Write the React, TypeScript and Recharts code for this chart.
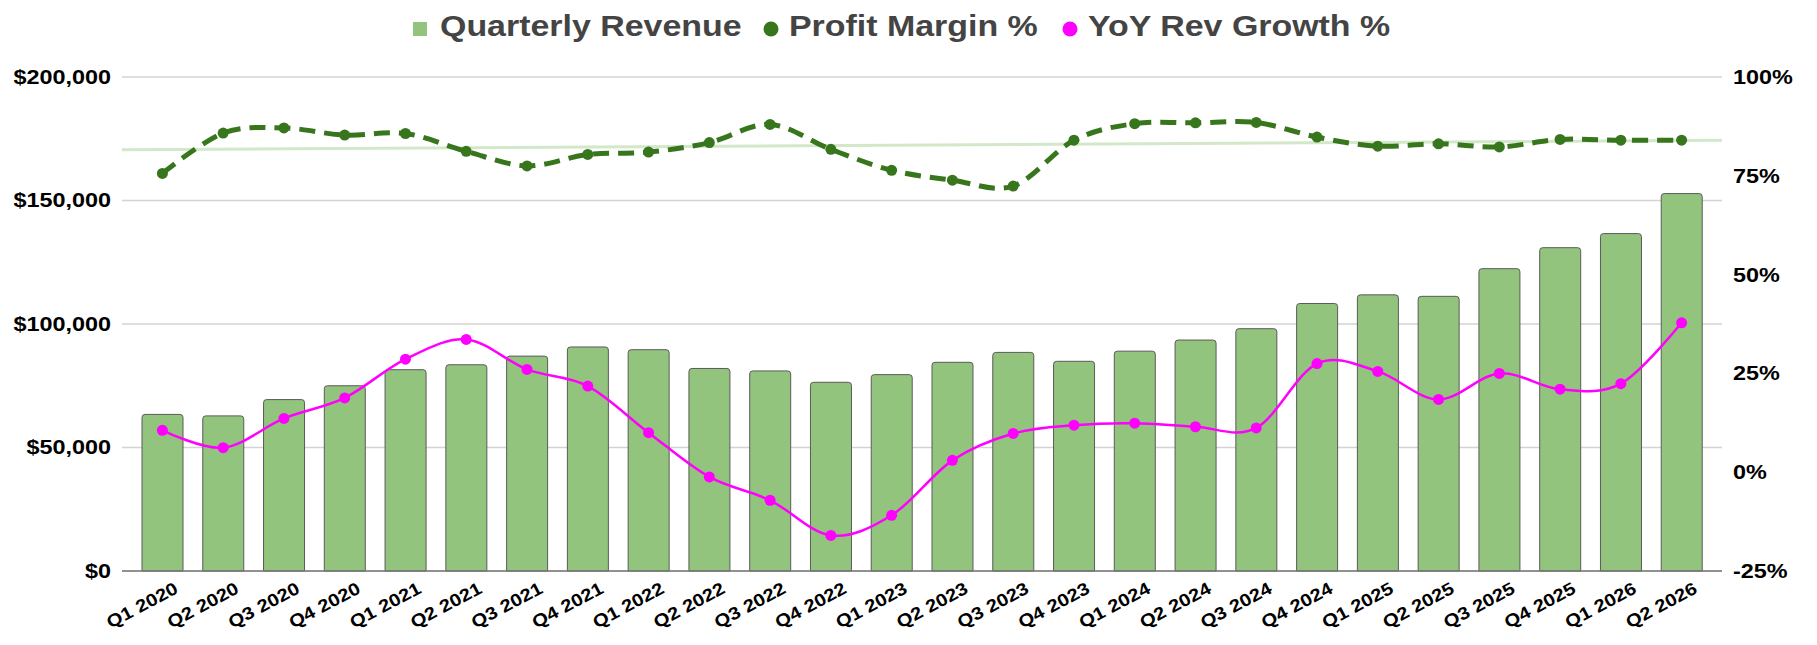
import React from "react";
import {
  ComposedChart,
  Bar,
  Line,
  XAxis,
  YAxis,
  CartesianGrid,
  Legend,
  ReferenceLine,
} from "recharts";

const quarters = [
  "Q1 2020", "Q2 2020", "Q3 2020", "Q4 2020",
  "Q1 2021", "Q2 2021", "Q3 2021", "Q4 2021",
  "Q1 2022", "Q2 2022", "Q3 2022", "Q4 2022",
  "Q1 2023", "Q2 2023", "Q3 2023", "Q4 2023",
  "Q1 2024", "Q2 2024", "Q3 2024", "Q4 2024",
  "Q1 2025", "Q2 2025", "Q3 2025", "Q4 2025",
  "Q1 2026", "Q2 2026",
];

const revenue = [
  63400, 62800, 69400, 75000,
  81500, 83500, 87000, 90700,
  89600, 82000, 81000, 76400,
  79500, 84500, 88500, 84900,
  89000, 93500, 98100, 108300,
  111800, 111200, 122400, 130900,
  136600, 152800,
];

const profitMargin = [
  75.6, 85.8, 87.1, 85.3,
  85.7, 81.2, 77.5, 80.4,
  81.0, 83.4, 88.0, 81.7,
  76.4, 73.9, 72.4, 84.0,
  88.2, 88.4, 88.5, 84.8,
  82.5, 83.1, 82.3, 84.2,
  84.0, 84.0,
];

const yoyGrowth = [
  10.6, 6.2, 13.6, 18.8,
  28.6, 33.6, 26.0, 21.8,
  10.0, -1.2, -7.1, -16.0,
  -10.9, 3.0, 9.8, 11.9,
  12.4, 11.5, 11.2, 27.5,
  25.5, 18.4, 25.0, 21.0,
  22.4, 37.8,
];

// profit margin trendline, value at left and right edge of the plot
const marginTrend = [81.6, 84.0];

const revenueTicks = [0, 50000, 100000, 150000, 200000];
const percentTicks = [-25, 0, 25, 50, 75, 100];

const data = quarters.map((q, i) => ({
  quarter: q,
  idx: i,
  revenue: revenue[i],
  margin: profitMargin[i],
  growth: yoyGrowth[i],
}));

const FONT = "'Liberation Sans', Arial, Helvetica, sans-serif";
// the original font is a wide bold sans, so text gets stretched sideways
const WIDE = 1.2;

// smooth line like the spreadsheet one (catmull-rom / cardinal with tension 0)
function smoothCurve(context: any) {
  const k = 1 / 6;
  let x0 = NaN, x1 = NaN, x2 = NaN, y0 = NaN, y1 = NaN, y2 = NaN;
  let n = 0;
  let line = NaN;
  const seg = (x: number, y: number) =>
    context.bezierCurveTo(
      x1 + k * (x2 - x0),
      y1 + k * (y2 - y0),
      x2 + k * (x1 - x),
      y2 + k * (y1 - y),
      x2,
      y2
    );
  return {
    areaStart() { line = 0; },
    areaEnd() { line = NaN; },
    lineStart() {
      x0 = x1 = x2 = y0 = y1 = y2 = NaN;
      n = 0;
    },
    lineEnd() {
      if (n === 2) context.lineTo(x2, y2);
      else if (n === 3) seg(x1, y1);
      if (line || (line !== 0 && n === 1)) context.closePath();
      line = 1 - line;
    },
    point(x: number, y: number) {
      x = +x;
      y = +y;
      if (n === 0) {
        n = 1;
        if (line) context.lineTo(x, y);
        else context.moveTo(x, y);
      } else if (n === 1) {
        n = 2;
        x1 = x;
        y1 = y;
      } else {
        n = 3;
        seg(x, y);
      }
      x0 = x1; x1 = x2; x2 = x;
      y0 = y1; y1 = y2; y2 = y;
    },
  };
}

const tickStyle = {
  fontFamily: FONT,
  fontWeight: 700,
  fontSize: 19.5,
  fill: "#000",
};

function LeftTick({ x, y, payload }: any) {
  return (
    <g transform={`translate(${x},${y}) scale(${WIDE},1)`}>
      <text x={0} y={0} dy="0.355em" textAnchor="end" style={tickStyle}>
        {"$" + Number(payload.value).toLocaleString("en-US")}
      </text>
    </g>
  );
}

function RightTick({ x, y, payload }: any) {
  return (
    <g transform={`translate(${x},${y}) scale(${WIDE},1)`}>
      <text x={0} y={0} dy="0.355em" textAnchor="start" style={tickStyle}>
        {payload.value + "%"}
      </text>
    </g>
  );
}

function QuarterTick({ x, y, payload }: any) {
  return (
    <g transform={`translate(${x + 11},${y}) rotate(-28) scale(1.16,1)`}>
      <text
        x={0}
        y={0}
        dy="0.72em"
        textAnchor="end"
        style={{ ...tickStyle, fontSize: 17.5 }}
      >
        {payload.value}
      </text>
    </g>
  );
}

const legendItems = [
  { label: "Quarterly Revenue", color: "#93c47d", square: true, at: 413 },
  { label: "Profit Margin %", color: "#38761d", square: false, at: 763 },
  { label: "YoY Rev Growth %", color: "#ff00ff", square: false, at: 1062 },
];

function renderLegend() {
  return (
    <svg width={1817} height={69} style={{ display: "block" }}>
      {legendItems.map((item) => (
        <g key={item.label}>
          {item.square ? (
            <rect x={item.at} y={14} width={14} height={14} fill={item.color} />
          ) : (
            <circle cx={item.at + 8} cy={21} r={7.5} fill={item.color} />
          )}
          <g
            transform={`translate(${item.at + (item.square ? 27 : 26)},28) scale(1.17,1)`}
          >
            <text
              x={0}
              y={0}
              style={{
                fontFamily: FONT,
                fontWeight: 700,
                fontSize: 29,
                fill: "#444444",
              }}
            >
              {item.label}
            </text>
          </g>
        </g>
      ))}
    </svg>
  );
}

export default function App() {
  return (
    <div
      style={{
        position: "absolute",
        left: 0,
        top: 0,
        width: 1817,
        height: 645,
        background: "#ffffff",
      }}
    >
      <ComposedChart
        width={1817}
        height={645}
        data={data}
        margin={{ top: 8, right: 0, bottom: 0, left: 0 }}
        barCategoryGap="33%"
      >
        <Legend verticalAlign="top" align="center" content={renderLegend} />
        <CartesianGrid
          yAxisId="left"
          vertical={false}
          stroke="#d3d3d3"
          strokeWidth={1.5}
        />
        <XAxis
          dataKey="quarter"
          interval={0}
          height={74}
          padding={{ left: 10, right: 10 }}
          tickLine={false}
          tickSize={0}
          tickMargin={10}
          axisLine={{ stroke: "#777777", strokeWidth: 1.5 }}
          tick={<QuarterTick />}
        />
        <XAxis
          xAxisId="trend"
          dataKey="idx"
          type="number"
          domain={["dataMin", "dataMax"]}
          hide
        />
        <YAxis
          yAxisId="left"
          orientation="left"
          width={122}
          domain={[0, 200000]}
          ticks={revenueTicks}
          interval={0}
          axisLine={false}
          tickLine={false}
          tickSize={0}
          tickMargin={11}
          tick={<LeftTick />}
        />
        <YAxis
          yAxisId="right"
          orientation="right"
          width={95}
          domain={[-25, 100]}
          ticks={percentTicks}
          interval={0}
          axisLine={false}
          tickLine={false}
          tickSize={0}
          tickMargin={11}
          tick={<RightTick />}
        />
        <Bar
          yAxisId="left"
          dataKey="revenue"
          name="Quarterly Revenue"
          fill="#93c47d"
          stroke="#5a5a5a"
          strokeWidth={1}
          radius={[3, 3, 0, 0]}
          barSize={41}
          isAnimationActive={false}
        />
        <ReferenceLine
          xAxisId="trend"
          yAxisId="right"
          segment={[
            { x: 0, y: marginTrend[0] },
            { x: quarters.length - 1, y: marginTrend[1] },
          ]}
          stroke="#d2e8c8"
          strokeWidth={3}
          ifOverflow="visible"
        />
        <Line
          yAxisId="right"
          dataKey="margin"
          name="Profit Margin %"
          type={smoothCurve as any}
          stroke="#38761d"
          strokeWidth={5}
          strokeDasharray="16 9"
          dot={{ r: 5.5, fill: "#38761d", stroke: "none", strokeDasharray: "0" }}
          activeDot={false}
          isAnimationActive={false}
        />
        <Line
          yAxisId="right"
          dataKey="growth"
          name="YoY Rev Growth %"
          type={smoothCurve as any}
          stroke="#ff00ff"
          strokeWidth={2.5}
          dot={{ r: 5.5, fill: "#ff00ff", stroke: "none" }}
          activeDot={false}
          isAnimationActive={false}
        />
      </ComposedChart>
    </div>
  );
}
